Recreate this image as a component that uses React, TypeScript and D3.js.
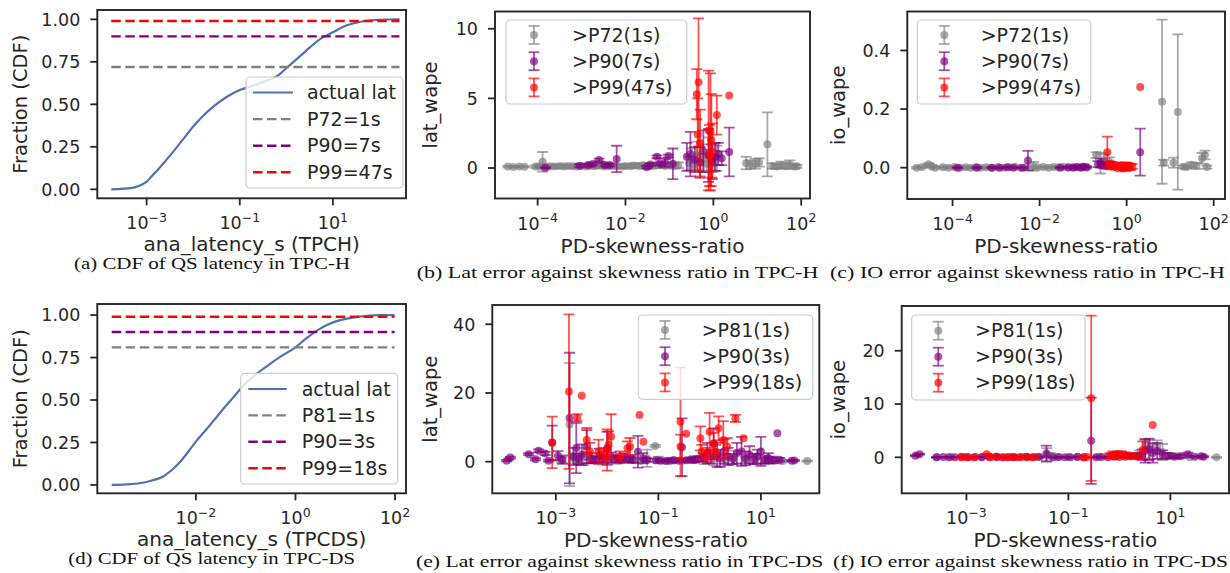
import React, { useEffect, useRef } from 'react'
import * as d3 from 'd3'

// ---------- CDF data (latency in seconds, cumulative fraction) ----------
const tpchLatency = [1.74e-4, 4e-4, 6.8e-4, 1e-3, 1.3e-3, 1.8e-3, 3.7e-3, 6.3e-3, 0.01, 0.016, 0.027, 0.05, 0.1, 0.2, 0.38, 0.63, 1.02, 2, 3.2, 5.4, 10.2, 20, 39, 79, 158, 269]
const tpchCdf = [0, 0.005, 0.02, 0.045, 0.078, 0.12, 0.22, 0.3, 0.37, 0.43, 0.486, 0.54, 0.584, 0.61, 0.64, 0.665, 0.715, 0.785, 0.835, 0.885, 0.925, 0.965, 0.986, 0.996, 0.999, 1]
const tpchPctLabels = ['P72=1s', 'P90=7s', 'P99=47s']
const tpchPctValues = [0.72, 0.9, 0.99]

const tpcdsLatency = [2.04e-4, 4e-4, 7.4e-4, 1.26e-3, 2.2e-3, 3.2e-3, 4.8e-3, 7.1e-3, 0.01, 0.016, 0.023, 0.036, 0.058, 0.091, 0.145, 0.27, 0.5, 1, 1.6, 2.75, 4.5, 7.9, 14, 27.5, 50, 98]
const tpcdsCdf = [0, 0.003, 0.01, 0.025, 0.05, 0.085, 0.135, 0.197, 0.255, 0.325, 0.38, 0.45, 0.52, 0.585, 0.64, 0.7, 0.755, 0.81, 0.86, 0.91, 0.945, 0.97, 0.985, 0.995, 0.999, 1]
const tpcdsPctLabels = ['P81=1s', 'P90=3s', 'P99=18s']
const tpcdsPctValues = [0.81, 0.9, 0.99]

// ---------- scatter groups ----------
const tpchGroups = ['>P72(1s)', '>P90(7s)', '>P99(47s)']
const tpcdsGroups = ['>P81(1s)', '>P90(3s)', '>P99(18s)']

// [skewness ratio, wape, error]
const tpchLatP72 = [
  [2.1e-5, 0.1, 0.05], [2.8e-5, 0.08, 0.05], [3.8e-5, 0.1, 0.05], [5e-5, 0.09, 0.05],
  [9e-5, 0.1, 0.08], [1.1e-4, 0.12, 0.1], [1.3e-4, 0.45, 0.7], [1.6e-4, 0.1, 0.08],
  [2e-4, 0.12, 0.1], [2.5e-4, 0.1, 0.1], [3.2e-4, 0.14, 0.1], [4e-4, 0.1, 0.1],
  [5e-4, 0.15, 0.1], [6.3e-4, 0.12, 0.1], [8e-4, 0.1, 0.1], [1e-3, 0.13, 0.1],
  [1.3e-3, 0.1, 0.1], [1.6e-3, 0.15, 0.12], [2e-3, 0.12, 0.1], [2.5e-3, 0.18, 0.15],
  [3.2e-3, 0.1, 0.1], [4e-3, 0.12, 0.1], [5e-3, 0.15, 0.12], [6.3e-3, 0.13, 0.1],
  [8e-3, 0.1, 0.12], [0.01, 0.15, 0.12], [0.013, 0.12, 0.1], [0.016, 0.18, 0.15],
  [0.02, 0.14, 0.1], [0.025, 0.2, 0.15], [0.032, 0.15, 0.12], [0.04, 0.12, 0.1],
  [0.05, 0.18, 0.15], [0.063, 0.2, 0.2], [0.08, 0.15, 0.15], [0.1, 0.2, 0.2],
  [0.13, 0.15, 0.2], [0.16, 0.2, 0.2],
  [0.28, 0.35, 0.5], [0.32, 0.6, 0.8], [0.36, 0.25, 0.4], [0.42, 0.9, 1.0], [0.5, 0.4, 0.6],
  [0.6, 0.7, 1.0], [0.7, 0.3, 0.5], [0.8, 1.0, 1.2], [0.9, 0.5, 0.8], [1.05, 0.35, 0.6], [1.2, 0.7, 0.9],
  [5.6, 0.35, 0.45], [7, 0.25, 0.3], [9, 0.3, 0.35], [11, 0.4, 0.3], [17, 1.7, 2.3],
  [22, 0.15, 0.2], [28, 0.1, 0.15], [35, 0.2, 0.25], [45, 0.15, 0.2], [55, 0.25, 0.3], [70, 0.1, 0.15], [80, 0.12, 0.1],
]
const tpchLatP90 = [
  [1.5e-4, 0.02, 0.05], [9e-4, 0.17, 0.1], [1.4e-3, 0.22, 0.1], [1.8e-3, 0.29, 0.1], [2.5e-3, 0.58, 0.1],
  [3.4e-3, 0.22, 0.1], [4.4e-3, 0.22, 0.1], [6.3e-3, 0.65, 0.95], [0.03, 0.05, 0.1], [0.037, 0.25, 0.1],
  [0.052, 0.8, 0.1], [0.061, 0.3, 0.1], [0.08, 0.38, 0.3], [0.095, 0.86, 0.1], [0.12, 0.3, 1.1],
  [0.25, 0.8, 1.0], [0.3, 1.0, 1.6], [0.38, 0.6, 0.9], [0.5, 0.4, 1.1], [0.59, 1.2, 1.5], [0.78, 0.9, 1.9],
  [0.92, 0.5, 1.2], [1.1, 0.8, 1.0], [1.3, 1.0, 0.8], [1.55, 0.7, 0.5], [2.3, 1.15, 1.75],
]
const tpchLatP99 = [
  [0.42, 5.3, 1.8], [0.44, 2.4, 2.6], [0.46, 6.15, 4.6], [0.5, 1.8, 2.4], [0.78, 2.7, 4.3], [0.82, 0.9, 2.2],
  [0.86, 2.6, 4.2], [0.9, 2.0, 3.3], [0.95, 1.2, 2.0], [1.2, 3.8, 1.4], [2.3, 5.2, 0],
]

const tpchIoP72 = [
  [1.5e-5, 0.0, 0.003], [2e-5, 0.002, 0.003], [2.8e-5, 0.012, 0.003], [3.3e-5, 0.004, 0.003], [4e-5, 0.0, 0.003],
  [6e-5, 0.001, 0.003], [8e-5, 0.0, 0.003], [1.1e-4, 0.002, 0.003], [1.5e-4, 0.0, 0.003], [2e-4, 0.001, 0.003],
  [2.6e-4, 0.0, 0.003], [3.5e-4, 0.002, 0.003], [4.5e-4, 0.0, 0.003], [6e-4, 0.001, 0.003], [8e-4, 0.0, 0.003],
  [1.1e-3, 0.002, 0.003], [1.5e-3, 0.0, 0.003], [2e-3, 0.001, 0.003], [2.7e-3, 0.003, 0.003], [3.6e-3, 0.0, 0.003],
  [5e-3, 0.002, 0.003], [7.2e-3, 0.005, 0.015], [9e-3, 0.001, 0.003], [0.012, 0.002, 0.003], [0.016, 0.0, 0.003],
  [0.021, 0.002, 0.003], [0.027, 0.001, 0.003], [0.035, 0.003, 0.003], [0.045, 0.0, 0.003], [0.06, 0.002, 0.003],
  [0.08, 0.001, 0.003], [0.1, 0.002, 0.003], [0.12, 0.0, 0.003],
  [0.2, 0.043, 0.01], [0.25, 0.015, 0.035], [0.3, 0.025, 0.02], [0.4, 0.02, 0.015],
  [6.5, 0.225, 0.28], [7.1, 0.017, 0.01], [12, 0.017, 0.017], [15, 0.19, 0.265], [20, 0.003, 0.005],
  [24, 0.002, 0.005], [31, 0.01, 0.008], [40, 0.006, 0.01], [54, 0.032, 0.018], [63, 0.043, 0.015], [70, 0.002, 0.005],
]
const tpchIoP90 = [
  [1.3e-4, 0.0, 0.002], [3.6e-4, 0.0, 0.002], [8e-4, 0.0, 0.002], [1.2e-3, 0.0, 0.002], [1.8e-3, 0.001, 0.002],
  [2.5e-3, 0.0, 0.002], [4e-3, 0.0, 0.002], [5.4e-3, 0.024, 0.033], [0.03, 0.0, 0.002], [0.046, 0.001, 0.002],
  [0.06, 0.0, 0.002], [0.072, 0.002, 0.002], [0.09, 0.0, 0.002], [0.1, 0.003, 0.002], [0.12, 0.002, 0.002],
  [0.22, 0.012, 0.01], [0.25, 0.015, 0.015], [0.3, 0.008, 0.01], [0.35, 0.005, 0.008], [0.45, 0.01, 0.01],
  [0.55, 0.004, 0.005], [2.05, 0.053, 0.08],
]
const tpchIoP99 = [
  [0.36, 0.053, 0.053], [0.4, 0.012, 0.01], [0.45, 0.005, 0.008], [0.55, 0.003, 0.01], [0.65, 0.005, 0.012],
  [0.75, 0.002, 0.015], [0.85, 0.004, 0.012], [0.95, 0.003, 0.015], [1.05, 0.006, 0.01], [1.2, 0.002, 0.01],
  [1.35, 0.004, 0.008], [2.05, 0.275, 0],
]

const tpcdsLatP81 = [
  [1.3e-3, 0.5, 0.8], [1.85e-3, 10.8, 17.9], [2.2e-3, 1.0, 1.5], [2.7e-3, 0.5, 1.0], [3.5e-3, 1.5, 2.5],
  [4.5e-3, 0.8, 1.2], [6e-3, 0.4, 0.8], [8e-3, 1.2, 2.0], [1.1e-2, 0.6, 1.0], [1.5e-2, 0.9, 1.5],
  [2e-2, 0.5, 0.8], [3e-2, 0.8, 1.2], [4.5e-2, 0.3, 0.5], [6e-2, 1.0, 2.5], [8.7e-2, 4.6, 0.3],
  [0.1, 0.5, 1.0], [0.15, 0.3, 0.5], [0.2, 0.4, 0.6], [0.3, 0.3, 0.5], [0.5, 0.6, 1.0], [0.8, 0.8, 1.5],
  [1.2, 1.0, 2.0], [2, 0.7, 1.5], [3, 1.2, 2.0], [5, 0.5, 1.0], [8, 0.8, 1.5], [12, 0.4, 0.8],
  [18, 0.3, 0.5], [24, 0.3, 0.2], [27, 0.2, 0.2], [80, 0.2, 0.1],
]
const tpcdsLatP90 = [
  [1.1e-4, 0.3, 0.2], [1.3e-4, 1.2, 0.3], [2.95e-4, 2.2, 0.3], [4e-4, 0.7, 0.3], [4.6e-4, 3.2, 0.4],
  [6.2e-4, 2.4, 0.5], [7.2e-4, 0.3, 0.3], [8.5e-4, 5.5, 5.0], [1.1e-3, 1.7, 1.4], [1.35e-3, 0.6, 1.2],
  [1.85e-3, 12.7, 19], [2.2e-3, 1.5, 2.5], [2.5e-3, 4.0, 7.3], [2.8e-3, 0.8, 1.5], [3.2e-3, 2.0, 3.0],
  [4e-3, 4.4, 4.8], [4.8e-3, 1.0, 1.5], [5.8e-3, 0.6, 1.0], [7e-3, 1.8, 2.0], [8.5e-3, 0.8, 1.2],
  [1e-2, 3.9, 4.8], [1.2e-2, 1.2, 1.5], [1.5e-2, 0.9, 1.0], [1.8e-2, 0.5, 0.8], [2.2e-2, 1.3, 1.2],
  [2.7e-2, 0.7, 0.9], [3.2e-2, 0.5, 0.8], [4e-2, 2.9, 4.6], [5e-2, 1.0, 1.5], [6e-2, 0.5, 0.5],
  [0.09, 0.4, 0.4], [0.11, 0.3, 0.3], [0.14, 0.2, 0.2], [0.17, 0.3, 0.3], [0.2, 0.4, 0.4], [0.25, 0.3, 0.3],
  [0.29, 4.2, 8.4], [0.35, 0.4, 0.4], [0.42, 0.6, 0.5], [0.5, 0.5, 0.5], [0.6, 0.8, 0.8], [0.75, 1.2, 1.2],
  [0.9, 2.5, 3.0], [1.05, 1.5, 2.0], [1.2, 5.2, 4.5], [1.4, 2.0, 3.5], [1.6, 1.0, 2.5], [1.9, 3.0, 3.5],
  [2.3, 1.5, 2.5], [2.8, 0.8, 1.5], [3.4, 2.5, 3.0], [4.2, 3.0, 4.2], [5, 1.0, 2.0], [6, 2.0, 2.5],
  [7.2, 0.8, 1.5], [8.5, 1.5, 2.0], [10, 3.0, 4.2], [12, 0.6, 1.2], [14, 1.0, 1.5], [17, 0.5, 1.0],
  [21, 8.3, 0], [23, 0.6, 0.5], [40, 0.3, 0.2], [45, 0.35, 0.2],
]
const tpcdsLatP99 = [
  [8.5e-4, 5.6, 7.5], [1.8e-3, 20.4, 22.5], [2.6e-3, 12.8, 1.0], [3.2e-3, 19.2, 0], [4e-3, 6.3, 3.5],
  [4.6e-3, 3.0, 2.5], [6.8e-3, 2.9, 3.5], [8.5e-3, 2.0, 2.0], [1e-2, 3.4, 6], [1.07e-2, 4.9, 4],
  [1.2e-2, 7.3, 6.5], [1.8e-2, 1.5, 1.5], [2.5e-2, 3.9, 2], [2.8e-2, 4.4, 2.5], [4.3e-2, 13.6, 0],
  [5.1e-2, 5.8, 0], [0.27, 11.6, 15.8], [0.27, 4.4, 3.5], [0.35, 8.1, 0], [0.66, 6.8, 3.5], [0.7, 2.9, 2.0],
  [0.9, 2.0, 2.0], [1.0, 8.7, 5.5], [1.2, 5.4, 3], [1.3, 2.9, 2], [1.5, 9.7, 3.5], [1.85, 6.3, 5.5],
  [2.2, 4.4, 2.5], [3.2, 12.6, 1.0], [4.6, 6.8, 0],
]

const tpcdsIoP81 = [
  [2.6e-4, 0.0, 0.05], [5e-4, 0.05, 0.05], [1e-3, 0.0, 0.05], [2e-3, 0.05, 0.05], [4e-3, 0.1, 0.1],
  [8e-3, 0.0, 0.05], [1.5e-2, 0.05, 0.05], [2.5e-2, 0.1, 0.1], [3.8e-2, 0.5, 1.2], [4.5e-2, 0.3, 0.5],
  [6e-2, 0.0, 0.1], [0.1, 0.05, 0.1], [0.15, 0.1, 0.1], [0.4, 0.1, 0.2], [0.8, 0.2, 0.3], [1.5, 0.3, 0.4],
  [2.5, 0.5, 0.8], [3.2, 2.5, 0.8], [4, 1.5, 1.8], [5.5, 2.0, 1.2], [7, 1.0, 1.5], [10, 0.3, 0.5],
  [14, 0.2, 0.3], [24, 0.0, 0.1], [80, 0.0, 0.1],
]
const tpcdsIoP90 = [
  [1e-4, 0.3, 0.1], [1.2e-4, 0.6, 0.1], [2.6e-4, 0.0, 0.05], [3.5e-4, 0.05, 0.05], [4.5e-4, 0.0, 0.05],
  [6e-4, 0.0, 0.05], [8e-4, 0.1, 0.05], [1.1e-3, 0.0, 0.05], [1.5e-3, 0.05, 0.05], [2e-3, 0.0, 0.05],
  [2.8e-3, 0.0, 0.05], [3.8e-3, 0.1, 0.1], [5e-3, 0.0, 0.05], [6.5e-3, 0.0, 0.05], [8.5e-3, 0.05, 0.05],
  [1.1e-2, 0.0, 0.05], [1.5e-2, 0.1, 0.1], [2e-2, 0.0, 0.05], [2.7e-2, 0.05, 0.1], [3.7e-2, 0.7, 1.5],
  [5e-2, 0.0, 0.05], [6.5e-2, 0.05, 0.05], [8.5e-2, 0.0, 0.05], [0.11, 0.0, 0.05], [0.15, 0.05, 0.05],
  [0.2, 0.0, 0.05], [0.28, 3.1, 8.1], [0.35, 0.0, 0.05], [0.45, 0.05, 0.1], [0.6, 0.0, 0.1], [0.8, 0.1, 0.1],
  [1.0, 0.05, 0.1], [1.3, 0.1, 0.2], [1.7, 0.2, 0.3], [2.2, 0.3, 0.5], [2.8, 0.5, 1.0], [3.2, 1.2, 2.2],
  [3.8, 1.5, 2.0], [4.5, 0.8, 1.8], [5.5, 1.2, 1.5], [7, 0.5, 0.8], [9, 0.3, 0.5], [12, 0.1, 0.2],
  [16, 0.2, 0.3], [22, 0.6, 0.3], [30, 0.1, 0.1], [40, 0.2, 0.1], [45, 0.1, 0.1],
]
const tpcdsIoP99 = [
  [8e-4, 0.0, 0.05], [1e-3, 0.05, 0.05], [1.4e-3, 0.0, 0.05], [2.5e-3, 0.6, 0.1], [3e-3, 0.0, 0.05],
  [4e-3, 0.05, 0.05], [5.5e-3, 0.0, 0.05], [7e-3, 0.05, 0.05], [9e-3, 0.0, 0.05], [1.2e-2, 0.05, 0.05],
  [1.6e-2, 0.0, 0.05], [2.1e-2, 0.05, 0.05], [0.2, 0.0, 0.05], [0.23, 0.05, 0.05], [0.28, 11.1, 15.5],
  [0.65, 0.3, 0.5], [0.75, 0.5, 0.6], [0.85, 0.4, 0.5], [0.95, 0.6, 0.5], [1.1, 0.5, 0.6], [1.3, 0.4, 0.5],
  [1.6, 0.3, 0.4], [2.1, 0.2, 0.3], [2.9, 1.4, 1.6], [4.5, 6.06, 0],
]

// ---------- ticks ----------
const tpchCdfXTicks = [1e-3, 1e-1, 1e1]
const tpcdsCdfXTicks = [1e-2, 1, 1e2]
const cdfYTicks = [0, 0.25, 0.5, 0.75, 1]
const tpchSkewXTicks = [1e-4, 1e-2, 1, 1e2]
const tpcdsSkewXTicks = [1e-3, 1e-1, 1e1]
const tpchLatYTicks = [0, 5, 10]
const tpchIoYTicks = [0, 0.2, 0.4]
const tpcdsLatYTicks = [0, 20, 40]
const tpcdsIoYTicks = [0, 10, 20]

const INK = '#262626'
const SANS = "'DejaVu Sans', Verdana, sans-serif"
const SERIF = "'Liberation Serif', 'Times New Roman', serif"
const SERIES = ['gray', 'purple', 'red']
const ALPHA = 0.68

function powLabel(t, v) {
  const e = Math.round(Math.log10(v))
  t.text('10')
  t.append('tspan').attr('font-size', 12.5).attr('dy', -7.5).text(e < 0 ? '\u2212' + -e : String(e))
}

function scales(p) {
  const x = d3.scaleLog().domain(p.xDomain.map(v => Math.pow(10, v))).range([p.x0, p.x1])
  const y = d3.scaleLinear().domain(p.yDomain).range([p.y1, p.y0])
  return { x, y }
}

function drawFrame(g, p, x, y) {
  g.append('rect')
    .attr('x', p.x0).attr('y', p.y0)
    .attr('width', p.x1 - p.x0).attr('height', p.y1 - p.y0)
    .attr('fill', 'none').attr('stroke', INK).attr('stroke-width', 1.9)

  p.xTicks.forEach(v => {
    g.append('line').attr('x1', x(v)).attr('x2', x(v)).attr('y1', p.y1).attr('y2', p.y1 + 7)
      .attr('stroke', INK).attr('stroke-width', 1.8)
    const t = g.append('text').attr('x', x(v)).attr('y', p.y1 + 31)
      .attr('text-anchor', 'middle').attr('font-size', 17.5).attr('fill', INK)
    powLabel(t, v)
  })
  p.yTicks.forEach(v => {
    g.append('line').attr('x1', p.x0 - 7).attr('x2', p.x0).attr('y1', y(v)).attr('y2', y(v))
      .attr('stroke', INK).attr('stroke-width', 1.8)
    g.append('text').attr('x', p.x0 - 17).attr('y', y(v) + 6.4)
      .attr('text-anchor', 'end').attr('font-size', 17.5).attr('fill', INK)
      .text(p.yFmt(v))
  })

  g.append('text').attr('x', (p.x0 + p.x1) / 2).attr('y', p.y1 + p.xLabelDy)
    .attr('text-anchor', 'middle').attr('font-size', 20).attr('fill', INK).text(p.xLabel)
  g.append('text')
    .attr('transform', `translate(${p.yLabelX},${(p.y0 + p.y1) / 2}) rotate(-90)`)
    .attr('text-anchor', 'middle').attr('font-size', 19.5).attr('fill', INK).text(p.yLabel)

  g.append('text').attr('x', p.cap[0]).attr('y', p.cap[2])
    .attr('font-family', SERIF).attr('font-size', 17).attr('fill', '#111')
    .attr('textLength', p.cap[1]).attr('lengthAdjust', 'spacingAndGlyphs')
    .text(p.caption)
}

function legendBox(g, L) {
  g.append('rect').attr('x', L.x).attr('y', L.y).attr('width', L.w).attr('height', L.h)
    .attr('rx', 4).attr('fill', '#fff').attr('fill-opacity', 0.8)
    .attr('stroke', '#cccccc').attr('stroke-width', 1.2)
}

function drawCdfPanel(svg, p, lat, cdf, pctLabels, pctValues) {
  const { x, y } = scales(p)
  const g = svg.append('g')

  const line = d3.line().x((d, i) => x(lat[i])).y(d => y(d)).curve(d3.curveMonotoneX)
  g.append('path').datum(cdf).attr('d', line)
    .attr('fill', 'none').attr('stroke', '#4c72b0').attr('stroke-width', 2.2)

  pctValues.forEach((v, i) => {
    g.append('line')
      .attr('x1', x(lat[0])).attr('x2', x(lat[lat.length - 1]))
      .attr('y1', y(v)).attr('y2', y(v))
      .attr('stroke', SERIES[i]).attr('stroke-width', 2.4).attr('stroke-dasharray', '9.5,4.5')
  })

  drawFrame(g, p, x, y)

  const L = p.legend
  legendBox(g, L)
  const names = ['actual lat'].concat(pctLabels)
  names.forEach((name, i) => {
    const ry = L.row0 + i * L.step
    g.append('line').attr('x1', L.lx0).attr('x2', L.lx1).attr('y1', ry).attr('y2', ry)
      .attr('stroke', i === 0 ? '#4c72b0' : SERIES[i - 1])
      .attr('stroke-width', i === 0 ? 2.2 : 2.4)
      .attr('stroke-dasharray', i === 0 ? null : '9.5,4.5')
    g.append('text').attr('x', L.tx).attr('y', ry + 6.5).attr('font-size', 19).attr('fill', INK).text(name)
  })
}

function errGlyph(g, cx, cy, half, color) {
  g.append('line').attr('x1', cx).attr('x2', cx).attr('y1', cy - half).attr('y2', cy + half)
    .attr('stroke', color).attr('stroke-opacity', ALPHA).attr('stroke-width', 1.8)
  ;[cy - half, cy + half].forEach(yy => {
    g.append('line').attr('x1', cx - 5.5).attr('x2', cx + 5.5).attr('y1', yy).attr('y2', yy)
      .attr('stroke', color).attr('stroke-opacity', ALPHA).attr('stroke-width', 1.8)
  })
  g.append('circle').attr('cx', cx).attr('cy', cy).attr('r', 4)
    .attr('fill', color).attr('fill-opacity', ALPHA)
}

function drawScatterPanel(svg, p, series, groups, clipId) {
  const { x, y } = scales(p)
  const g = svg.append('g')
  g.append('clipPath').attr('id', clipId).append('rect')
    .attr('x', p.x0).attr('y', p.y0).attr('width', p.x1 - p.x0).attr('height', p.y1 - p.y0)

  const plot = g.append('g').attr('clip-path', `url(#${clipId})`)
  series.forEach((pts, si) => {
    const color = SERIES[si]
    const withErr = pts.filter(d => d[2] > 0)
    const s = plot.append('g')
    s.selectAll('line.bar').data(withErr).join('line').attr('class', 'bar')
      .attr('x1', d => x(d[0])).attr('x2', d => x(d[0]))
      .attr('y1', d => y(d[1] - d[2])).attr('y2', d => y(d[1] + d[2]))
      .attr('stroke', color).attr('stroke-opacity', ALPHA).attr('stroke-width', 1.8)
    ;[-1, 1].forEach(sign => {
      s.selectAll(`line.cap${sign}`).data(withErr).join('line').attr('class', `cap${sign}`)
        .attr('x1', d => x(d[0]) - 5.5).attr('x2', d => x(d[0]) + 5.5)
        .attr('y1', d => y(d[1] + sign * d[2])).attr('y2', d => y(d[1] + sign * d[2]))
        .attr('stroke', color).attr('stroke-opacity', ALPHA).attr('stroke-width', 1.8)
    })
    s.selectAll('circle').data(pts).join('circle')
      .attr('cx', d => x(d[0])).attr('cy', d => y(d[1])).attr('r', 4)
      .attr('fill', color).attr('fill-opacity', ALPHA)
  })

  drawFrame(g, p, x, y)

  const L = p.legend
  legendBox(g, L)
  groups.forEach((name, i) => {
    const ry = L.row0 + i * L.step
    errGlyph(g, L.mx, ry, 9, SERIES[i])
    g.append('text').attr('x', L.tx).attr('y', ry + 6.5).attr('font-size', 19).attr('fill', INK).text(name)
  })
}

function draw(svg) {
  const fmt2 = d3.format('.2f')
  const fmt1 = d3.format('.1f')
  const fmtInt = d3.format('d')

  drawCdfPanel(svg, {
    x0: 97.3, x1: 406, y0: 10, y1: 198.3, xDomain: [-4.06, 2.57], yDomain: [-0.053, 1.055],
    xTicks: tpchCdfXTicks, yTicks: cdfYTicks, yFmt: fmt2,
    xLabel: 'ana_latency_s (TPCH)', xLabelDy: 52.5, yLabel: 'Fraction (CDF)', yLabelX: 26.5,
    caption: '(a) CDF of QS latency in TPC-H', cap: [74, 276, 269],
    legend: { x: 246, y: 77, w: 157, h: 111, row0: 92.5, step: 26.6, lx0: 253, lx1: 293, tx: 307 },
  }, tpchLatency, tpchCdf, tpchPctLabels, tpchPctValues)

  drawCdfPanel(svg, {
    x0: 97.3, x1: 406, y0: 304, y1: 493.3, xDomain: [-3.98, 2.22], yDomain: [-0.049, 1.065],
    xTicks: tpcdsCdfXTicks, yTicks: cdfYTicks, yFmt: fmt2,
    xLabel: 'ana_latency_s (TPCDS)', xLabelDy: 52.5, yLabel: 'Fraction (CDF)', yLabelX: 26.5,
    caption: '(d) CDF of QS latency in TPC-DS', cap: [68.3, 286.7, 564],
    legend: { x: 240.7, y: 373.3, w: 157, h: 110.7, row0: 389, step: 26.4, lx0: 248.3, lx1: 286.7, tx: 301.7 },
  }, tpcdsLatency, tpcdsCdf, tpcdsPctLabels, tpcdsPctValues)

  drawScatterPanel(svg, {
    x0: 495, x1: 810, y0: 11.5, y1: 198.5, xDomain: [-4.97, 2.2], yDomain: [-2.19, 11.24],
    xTicks: tpchSkewXTicks, yTicks: tpchLatYTicks, yFmt: fmtInt,
    xLabel: 'PD-skewness-ratio', xLabelDy: 54.5, yLabel: 'lat_wape', yLabelX: 436.5,
    caption: '(b) Lat error against skewness ratio in TPC-H', cap: [416.7, 401.6, 278],
    legend: { x: 506, y: 20, w: 180.7, h: 84, row0: 35, step: 26.2, mx: 534, tx: 572 },
  }, [tpchLatP72, tpchLatP90, tpchLatP99], tpchGroups, 'clip-b')

  drawScatterPanel(svg, {
    x0: 907.3, x1: 1225, y0: 11.5, y1: 199, xDomain: [-5.04, 2.26], yDomain: [-0.107, 0.533],
    xTicks: tpchSkewXTicks, yTicks: tpchIoYTicks, yFmt: fmt1,
    xLabel: 'PD-skewness-ratio', xLabelDy: 54, yLabel: 'io_wape', yLabelX: 845,
    caption: '(c) IO error against skewness ratio in TPC-H', cap: [830, 395, 278],
    legend: { x: 917.3, y: 20, w: 173.4, h: 84, row0: 35, step: 26.2, mx: 944.3, tx: 980.7 },
  }, [tpchIoP72, tpchIoP90, tpchIoP99], tpchGroups, 'clip-c')

  drawScatterPanel(svg, {
    x0: 492.3, x1: 819.3, y0: 305, y1: 493.3, xDomain: [-4.24, 2.14], yDomain: [-9.2, 45.6],
    xTicks: tpcdsSkewXTicks, yTicks: tpcdsLatYTicks, yFmt: fmtInt,
    xLabel: 'PD-skewness-ratio', xLabelDy: 53.5, yLabel: 'lat_wape', yLabelX: 436.5,
    caption: '(e) Lat error against skewness ratio in TPC-DS', cap: [416, 407.3, 566.5],
    legend: { x: 638.3, y: 315, w: 174.4, h: 84.3, row0: 330, step: 26.2, mx: 665, tx: 701.7 },
  }, [tpcdsLatP81, tpcdsLatP90, tpcdsLatP99], tpcdsGroups, 'clip-e')

  drawScatterPanel(svg, {
    x0: 901.7, x1: 1229, y0: 306, y1: 493.3, xDomain: [-4.27, 2.15], yDomain: [-6.75, 28.4],
    xTicks: tpcdsSkewXTicks, yTicks: tpcdsIoYTicks, yFmt: fmtInt,
    xLabel: 'PD-skewness-ratio', xLabelDy: 53.5, yLabel: 'io_wape', yLabelX: 845,
    caption: '(f) IO error against skewness ratio in TPC-DS', cap: [833, 395, 566.5],
    legend: { x: 911.7, y: 315, w: 173.3, h: 85, row0: 330.7, step: 26, mx: 938.3, tx: 975 },
  }, [tpcdsIoP81, tpcdsIoP90, tpcdsIoP99], tpcdsGroups, 'clip-f')
}

export default function App() {
  const ref = useRef(null)
  useEffect(() => {
    const svg = d3.select(ref.current)
    svg.selectAll('*').remove()
    draw(svg)
  }, [])
  return (
    <svg
      ref={ref}
      width={1230}
      height={573}
      fontFamily={SANS}
      style={{ position: 'absolute', left: 0, top: 0, background: '#fff' }}
    />
  )
}
